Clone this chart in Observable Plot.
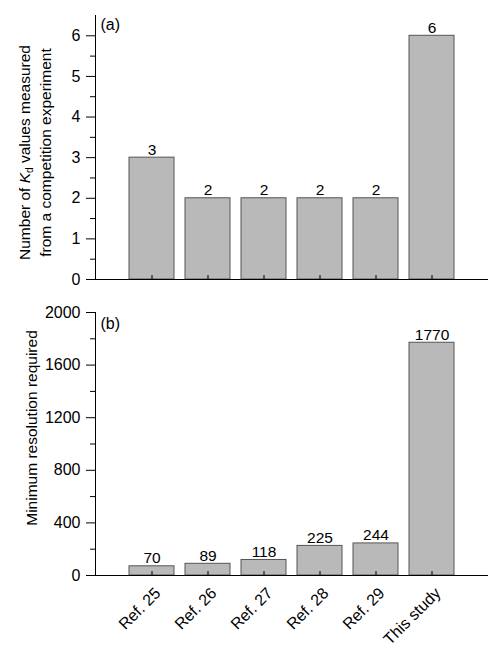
<!DOCTYPE html>
<html><head><meta charset="utf-8">
<script src="https://cdn.jsdelivr.net/npm/d3@7"></script>
<script src="https://cdn.jsdelivr.net/npm/@observablehq/plot@0.6"></script>
<style>html,body{margin:0;padding:0;background:#fff} #chart svg{display:block}</style>
</head><body><div id="chart"></div>
<script>
const categories = ["Ref. 25", "Ref. 26", "Ref. 27", "Ref. 28", "Ref. 29", "This study"];
const kdCounts = [3, 2, 2, 2, 2, 6];
const resolutions = [70, 89, 118, 225, 244, 1770];
const ticksA = [0, 1, 2, 3, 4, 5, 6];
const minorTicksA = [0.5, 1.5, 2.5, 3.5, 4.5, 5.5];
const ticksB = [0, 400, 800, 1200, 1600, 2000];
const minorTicksB = [200, 600, 1000, 1400, 1800];
const titleA = ["Number of Kd values measured", "from a competition experiment"];
const titleB = "Minimum resolution required";

const dataA = categories.map((c, i) => ({cat: c, value: kdCounts[i]}));
const dataB = categories.map((c, i) => ({cat: c, value: resolutions[i]}));

const W = 488;
const font = "'Liberation Sans', Arial, Helvetica, sans-serif";
const xScale = {domain: categories, paddingInner: 0.2, paddingOuter: 0.6, align: 0.5};
const barStyle = {fill: "#b9b9b9", stroke: "#555", strokeWidth: 1};
const style = {fontFamily: font, fontSize: "15px", color: "#000", background: "#fff", overflow: "visible"};
const fmt = d => String(d);

const plotA = Plot.plot({
  width: W, height: 290, marginLeft: 95, marginRight: 0, marginTop: 15, marginBottom: 11,
  style,
  x: xScale,
  y: {domain: [0, 6.5]},
  marks: [
    Plot.barY(dataA, {x: "cat", y: "value", ...barStyle}),
    Plot.text(dataA, {x: "cat", y: "value", text: d => String(d.value), dy: -3, lineAnchor: "bottom", fontSize: 15.5}),
    Plot.axisY(minorTicksA, {tickSize: 5, fill: "none", label: null}),
    Plot.axisY(ticksA, {tickSize: 9, tickPadding: 6, fontSize: 16, tickFormat: fmt, label: null}),
    Plot.axisX({tickSize: 4, dy: -4, fill: "none", label: null}),
    Plot.ruleY([0]),
    Plot.frame({anchor: "left"}),
    Plot.text(["(a)"], {frameAnchor: "top-left", dx: 5, dy: 3, lineAnchor: "top", textAnchor: "start", fontSize: 16}),
    Plot.text([titleA.join("\n")], {frameAnchor: "left", rotate: -90, dx: -61.5, dy: 5, lineAnchor: "middle", textAnchor: "middle", lineHeight: 1.35, fontSize: 15.5})
  ]
});

const plotB = Plot.plot({
  width: W, height: 360, marginLeft: 95, marginRight: 0, marginTop: 22, marginBottom: 75,
  style,
  x: xScale,
  y: {domain: [0, 2000]},
  marks: [
    Plot.barY(dataB, {x: "cat", y: "value", ...barStyle}),
    Plot.text(dataB, {x: "cat", y: "value", text: d => String(d.value), dy: -3, lineAnchor: "bottom", fontSize: 15.5}),
    Plot.axisY(minorTicksB, {tickSize: 5, fill: "none", label: null}),
    Plot.axisY(ticksB, {tickSize: 9, tickPadding: 6, fontSize: 16, tickFormat: fmt, label: null}),
    Plot.axisX({tickSize: 4, dy: -4, fill: "none", label: null}),
    Plot.axisX({tickSize: 0, tickRotate: -45, tickPadding: 15, dx: 6, fontSize: 16, label: null}),
    Plot.ruleY([0]),
    Plot.frame({anchor: "left"}),
    Plot.text(["(b)"], {frameAnchor: "top-left", dx: 5, dy: 5, lineAnchor: "top", textAnchor: "start", fontSize: 16}),
    Plot.text([titleB], {frameAnchor: "left", rotate: -90, dx: -63.5, dy: -16, lineAnchor: "middle", textAnchor: "middle", fontSize: 15.5})
  ]
});

// italic K with subscript d in panel (a) title
d3.select(plotA).selectAll("tspan").each(function() {
  if (this.textContent === titleA[0]) {
    const t = d3.select(this);
    t.text("Number of ");
    t.append("tspan").attr("font-style", "italic").text("K");
    t.append("tspan").attr("font-size", "10").attr("dy", "3").text("d");
    t.append("tspan").attr("dy", "-3").text(" values measured");
  }
});

const chart = document.getElementById("chart");
chart.appendChild(plotA);
chart.appendChild(plotB);
</script>
</body></html>
